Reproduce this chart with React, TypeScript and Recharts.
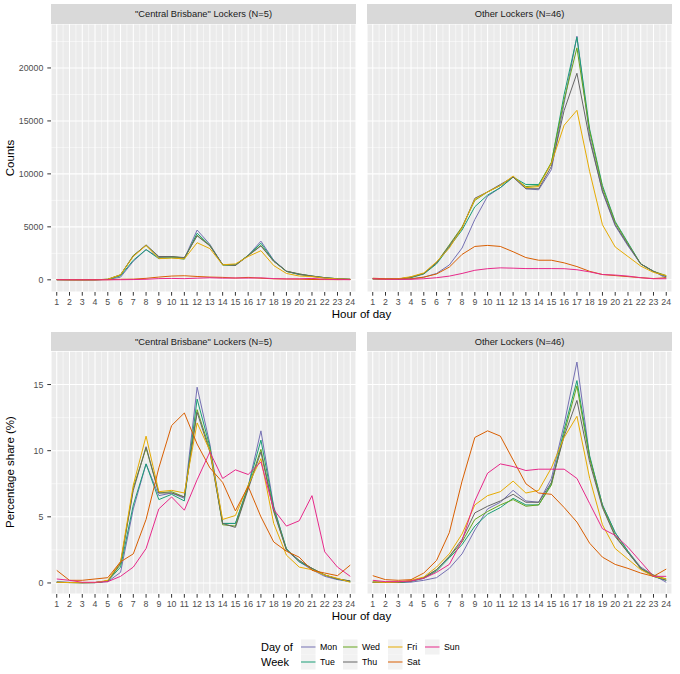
import React from "react";
import { LineChart, Line, XAxis, YAxis, CartesianGrid, ReferenceLine } from "recharts";

const hours = [1, 2, 3, 4, 5, 6, 7, 8, 9, 10, 11, 12, 13, 14, 15, 16, 17, 18, 19, 20, 21, 22, 23, 24];
const days = ["Mon", "Tue", "Wed", "Thu", "Fri", "Sat", "Sun"];
const dayColors = ["#7570B3", "#1B9E77", "#66A61E", "#666666", "#E6AB02", "#D95F02", "#E7298A"];

const countTicks = [0, 5000, 10000, 15000, 20000];
const countMinor = [2500, 7500, 12500, 17500, 22500];
const shareTicks = [0, 5, 10, 15];
const shareMinor = [2.5, 7.5, 12.5, 17.5];

// "Central Brisbane" lockers, counts per hour
const cbCountMon = [15, 8, 5, 5, 30, 250, 1750, 2850, 2100, 2150, 2000, 4700, 3350, 1420, 1420, 2300, 3650, 1850, 800, 500, 320, 160, 80, 30];
const cbCountTue = [15, 8, 5, 8, 40, 380, 1850, 2850, 2000, 2100, 1950, 4400, 3250, 1420, 1400, 2300, 3450, 1800, 800, 510, 350, 200, 100, 40];
const cbCountWed = [12, 8, 5, 8, 45, 450, 2300, 3250, 2150, 2200, 2050, 4200, 3250, 1400, 1380, 2300, 3250, 1750, 800, 550, 350, 200, 100, 50];
const cbCountThu = [12, 8, 5, 8, 45, 480, 2250, 3300, 2200, 2200, 2100, 4150, 3200, 1450, 1350, 2280, 3200, 1750, 820, 550, 360, 200, 100, 50];
const cbCountFri = [12, 8, 5, 8, 50, 480, 2200, 3250, 2000, 2050, 1980, 3500, 2950, 1420, 1500, 2200, 2750, 1350, 600, 360, 300, 150, 80, 40];
const cbCountSat = [30, 6, 6, 9, 12, 50, 65, 140, 260, 355, 385, 315, 260, 230, 165, 230, 150, 95, 75, 60, 30, 24, 18, 40];
const cbCountSun = [6, 4, 1, 1, 2, 10, 24, 52, 112, 130, 110, 156, 198, 158, 172, 164, 184, 114, 87, 94, 133, 48, 22, 10];

// Other lockers, counts per hour
const otCountMon = [100, 50, 40, 80, 250, 600, 1400, 3000, 5700, 7900, 8700, 9700, 8600, 8500, 10400, 16700, 23000, 13500, 8300, 5100, 3200, 1500, 800, 150];
const otCountTue = [100, 50, 60, 200, 550, 1500, 3100, 4700, 6900, 8000, 8700, 9700, 9000, 9000, 11000, 17500, 22900, 14200, 8900, 5500, 3500, 1500, 800, 300];
const otCountWed = [100, 50, 80, 250, 600, 1600, 3300, 5000, 7500, 8300, 8900, 9700, 8800, 8900, 11100, 17000, 21900, 14000, 8700, 5400, 3400, 1500, 800, 400];
const otCountThu = [100, 50, 80, 250, 600, 1600, 3200, 4900, 7700, 8300, 9000, 9700, 8600, 8600, 10700, 16000, 19500, 13200, 8400, 5200, 3300, 1500, 800, 300];
const otCountFri = [100, 50, 100, 300, 650, 1700, 3000, 4900, 7600, 8300, 8900, 9800, 8700, 8800, 11000, 14600, 16000, 10200, 5200, 3100, 2200, 1300, 700, 400];
const otCountSat = [150, 100, 80, 100, 250, 550, 1200, 2400, 3150, 3250, 3150, 2650, 2100, 1850, 1850, 1600, 1250, 800, 500, 400, 300, 200, 120, 200];
const otCountSun = [100, 50, 50, 50, 100, 200, 350, 600, 900, 1050, 1130, 1100, 1060, 1060, 1060, 1050, 950, 750, 500, 450, 350, 200, 100, 100];

// "Central Brisbane" lockers, percentage share
const cbShareMon = [0.1, 0.05, 0.02, 0.02, 0.1, 0.8, 5.6, 9.0, 6.6, 6.8, 6.4, 14.8, 10.5, 4.5, 4.5, 7.3, 11.5, 5.8, 2.5, 1.6, 1.0, 0.5, 0.25, 0.1];
const cbShareTue = [0.05, 0.03, 0.02, 0.03, 0.15, 1.2, 5.9, 9.0, 6.3, 6.7, 6.2, 13.9, 10.3, 4.5, 4.5, 7.3, 10.8, 5.7, 2.6, 1.6, 1.1, 0.6, 0.3, 0.1];
const cbShareWed = [0.04, 0.03, 0.02, 0.03, 0.15, 1.4, 7.2, 10.2, 6.8, 6.9, 6.5, 13.1, 10.1, 4.4, 4.3, 7.2, 10.1, 5.5, 2.5, 1.7, 1.1, 0.6, 0.3, 0.15];
const cbShareThu = [0.04, 0.03, 0.02, 0.03, 0.15, 1.5, 7.0, 10.3, 6.8, 6.8, 6.5, 12.9, 9.9, 4.5, 4.2, 7.1, 9.9, 5.4, 2.5, 1.7, 1.1, 0.6, 0.3, 0.15];
const cbShareFri = [0.05, 0.03, 0.02, 0.03, 0.2, 1.6, 7.4, 11.1, 6.9, 7.0, 6.8, 12.1, 10.0, 4.8, 5.1, 7.4, 9.4, 4.5, 2.1, 1.2, 1.0, 0.6, 0.35, 0.05];
const cbShareSat = [0.95, 0.2, 0.2, 0.3, 0.4, 1.6, 2.2, 4.8, 8.7, 11.9, 12.85, 10.5, 8.7, 7.6, 5.45, 7.3, 5.0, 3.1, 2.4, 1.95, 0.95, 0.75, 0.55, 1.35];
const cbShareSun = [0.3, 0.2, 0.05, 0.05, 0.1, 0.5, 1.2, 2.6, 5.6, 6.5, 5.5, 7.8, 9.9, 7.9, 8.55, 8.2, 9.15, 5.55, 4.3, 4.7, 6.6, 2.35, 1.2, 0.5];

// Other lockers, percentage share
const otShareMon = [0.05, 0.04, 0.03, 0.06, 0.2, 0.4, 1.1, 2.2, 4.0, 5.6, 6.1, 7.0, 6.2, 6.1, 7.9, 12.0, 16.7, 9.5, 5.9, 3.8, 2.4, 1.2, 0.6, 0.05];
const otShareTue = [0.06, 0.04, 0.04, 0.12, 0.35, 0.9, 1.9, 2.9, 4.3, 5.2, 5.7, 6.4, 5.9, 5.9, 7.5, 11.6, 15.3, 9.6, 5.9, 3.8, 2.4, 1.1, 0.5, 0.2];
const otShareWed = [0.06, 0.04, 0.05, 0.15, 0.4, 1.0, 2.0, 3.1, 4.8, 5.4, 5.9, 6.3, 5.8, 5.9, 7.4, 11.3, 14.9, 9.4, 5.8, 3.6, 2.3, 1.1, 0.6, 0.3];
const otShareThu = [0.06, 0.04, 0.05, 0.15, 0.4, 1.0, 2.0, 3.3, 5.3, 5.8, 6.2, 6.7, 6.1, 6.1, 7.6, 11.1, 13.8, 9.1, 5.7, 3.5, 2.3, 1.1, 0.5, 0.2];
const otShareFri = [0.07, 0.04, 0.07, 0.2, 0.45, 1.2, 2.2, 3.7, 5.9, 6.6, 6.9, 7.7, 6.8, 7.0, 8.7, 11.0, 12.6, 7.9, 4.4, 2.6, 1.8, 1.0, 0.5, 0.3];
const otShareSat = [0.55, 0.25, 0.2, 0.25, 0.75, 1.7, 3.8, 7.7, 11.0, 11.5, 11.1, 9.3, 7.5, 6.8, 6.7, 5.7, 4.6, 3.0, 1.95, 1.4, 1.1, 0.75, 0.5, 1.05];
const otShareSun = [0.2, 0.1, 0.1, 0.15, 0.35, 0.8, 1.4, 3.2, 6.2, 8.3, 9.0, 8.8, 8.5, 8.6, 8.6, 8.6, 7.9, 6.0, 4.1, 3.6, 2.7, 1.6, 0.5, 0.5];

type Row = { [key: string]: number };

function buildRows(series: number[][]): Row[] {
  return hours.map((h, i) => {
    const row: Row = { hour: h };
    days.forEach((d, j) => {
      row[d] = series[j][i];
    });
    return row;
  });
}

const cbCountRows = buildRows([cbCountMon, cbCountTue, cbCountWed, cbCountThu, cbCountFri, cbCountSat, cbCountSun]);
const otCountRows = buildRows([otCountMon, otCountTue, otCountWed, otCountThu, otCountFri, otCountSat, otCountSun]);
const cbShareRows = buildRows([cbShareMon, cbShareTue, cbShareWed, cbShareThu, cbShareFri, cbShareSat, cbShareSun]);
const otShareRows = buildRows([otShareMon, otShareTue, otShareWed, otShareThu, otShareFri, otShareSat, otShareSun]);

const minorHours = hours.slice(0, -1).map((h) => h + 0.5);

const FONT = "'Liberation Sans', Arial, Helvetica, sans-serif";
const Y_AXIS_W = 51;
const X_AXIS_H = 22;
const LEFT_X = 51;
const RIGHT_X = 367;
const PANEL_W = 305;

type PanelProps = {
  rows: Row[];
  left: number;
  top: number;
  height: number;
  yDomain: [number, number];
  yTicks: number[];
  yMinor: number[];
  showY: boolean;
};

function Panel({ rows, left, top, height, yDomain, yTicks, yMinor, showY }: PanelProps) {
  const yw = showY ? Y_AXIS_W : 0;
  const tickStyle = { fontSize: 8.8, fill: "#4D4D4D", fontFamily: FONT };
  return (
    <div style={{ position: "absolute", left: left - yw, top }}>
      <LineChart
        width={PANEL_W + yw}
        height={height + X_AXIS_H}
        data={rows}
        margin={{ top: 0, right: 0, bottom: 0, left: 0 }}
      >
        <CartesianGrid fill="#EBEBEB" stroke="#FFFFFF" strokeWidth={1.07} />
        {minorHours.map((h) => (
          <ReferenceLine key={"mx" + h} x={h} stroke="#FFFFFF" strokeWidth={0.53} />
        ))}
        {yMinor.map((v) => (
          <ReferenceLine key={"my" + v} y={v} stroke="#FFFFFF" strokeWidth={0.53} ifOverflow="extendDomain" />
        ))}
        <XAxis
          dataKey="hour"
          type="number"
          domain={[0.55, 24.45]}
          ticks={hours}
          interval={0}
          allowDataOverflow
          height={X_AXIS_H}
          axisLine={false}
          tickSize={3.7}
          tickMargin={3}
          tick={tickStyle}
          tickLine={{ stroke: "#333333" }}
        />
        <YAxis
          type="number"
          domain={yDomain}
          ticks={yTicks}
          interval={0}
          allowDataOverflow
          width={yw}
          hide={!showY}
          axisLine={false}
          tickSize={3.7}
          tickMargin={4}
          tick={tickStyle}
          tickLine={{ stroke: "#333333" }}
        />
        {days.map((d, i) => (
          <Line
            key={d}
            dataKey={d}
            type="linear"
            stroke={dayColors[i]}
            strokeWidth={1}
            dot={false}
            activeDot={false}
            isAnimationActive={false}
          />
        ))}
      </LineChart>
    </div>
  );
}

function Strip({ left, top, height, label }: { left: number; top: number; height: number; label: string }) {
  return (
    <div
      style={{
        position: "absolute",
        left,
        top,
        width: PANEL_W,
        height,
        background: "#D9D9D9",
        color: "#1A1A1A",
        fontSize: 9.3,
        display: "flex",
        alignItems: "center",
        justifyContent: "center",
      }}
    >
      {label}
    </div>
  );
}

function AxisTitleX({ top }: { top: number }) {
  return (
    <div
      style={{
        position: "absolute",
        left: LEFT_X,
        top,
        width: RIGHT_X + PANEL_W - LEFT_X,
        textAlign: "center",
        fontSize: 11.5,
        lineHeight: "14px",
        color: "#000",
      }}
    >
      Hour of day
    </div>
  );
}

function AxisTitleY({ centerY, label }: { centerY: number; label: string }) {
  return (
    <div
      style={{
        position: "absolute",
        left: 10,
        top: centerY,
        transform: "translate(-50%, -50%) rotate(-90deg)",
        fontSize: 11.5,
        lineHeight: "14px",
        whiteSpace: "nowrap",
        color: "#000",
      }}
    >
      {label}
    </div>
  );
}

const legendColX = [301, 343, 388, 425];

function DayLegend() {
  return (
    <svg
      width={680}
      height={44}
      style={{ position: "absolute", left: 0, top: 630, fontFamily: FONT }}
    >
      <text x={261} y={21} fontSize={11} fill="#000">Day of</text>
      <text x={261} y={36} fontSize={11} fill="#000">Week</text>
      {days.map((d, i) => {
        const col = Math.floor(i / 2);
        const row = i % 2;
        const x = legendColX[col];
        const y = 9.5 + row * 15;
        return (
          <g key={d}>
            <rect x={x} y={y} width={14.5} height={15} fill="#F2F2F2" />
            <line x1={x} x2={x + 14.5} y1={y + 7.5} y2={y + 7.5} stroke={dayColors[i]} strokeWidth={1} />
            <text x={x + 19} y={y + 10.5} fontSize={8.8} fill="#000">{d}</text>
          </g>
        );
      })}
    </svg>
  );
}

export default function App() {
  return (
    <div
      style={{
        position: "absolute",
        left: 0,
        top: 0,
        width: 680,
        height: 674,
        background: "#FFFFFF",
        fontFamily: FONT,
        overflow: "hidden",
      }}
    >
      <Strip left={LEFT_X} top={4} height={20} label={'"Central Brisbane" Lockers (N=5)'} />
      <Strip left={RIGHT_X} top={4} height={20} label="Other Lockers (N=46)" />
      <Panel rows={cbCountRows} left={LEFT_X} top={24} height={268} yDomain={[-1150, 24150]} yTicks={countTicks} yMinor={countMinor} showY />
      <Panel rows={otCountRows} left={RIGHT_X} top={24} height={268} yDomain={[-1150, 24150]} yTicks={countTicks} yMinor={countMinor} showY={false} />
      <AxisTitleX top={307} />
      <AxisTitleY centerY={158} label="Counts" />

      <Strip left={LEFT_X} top={332} height={19} label={'"Central Brisbane" Lockers (N=5)'} />
      <Strip left={RIGHT_X} top={332} height={19} label="Other Lockers (N=46)" />
      <Panel rows={cbShareRows} left={LEFT_X} top={351} height={243} yDomain={[-0.835, 17.535]} yTicks={shareTicks} yMinor={shareMinor} showY />
      <Panel rows={otShareRows} left={RIGHT_X} top={351} height={243} yDomain={[-0.835, 17.535]} yTicks={shareTicks} yMinor={shareMinor} showY={false} />
      <AxisTitleX top={609} />
      <AxisTitleY centerY={472} label="Percentage share (%)" />

      <DayLegend />
    </div>
  );
}
